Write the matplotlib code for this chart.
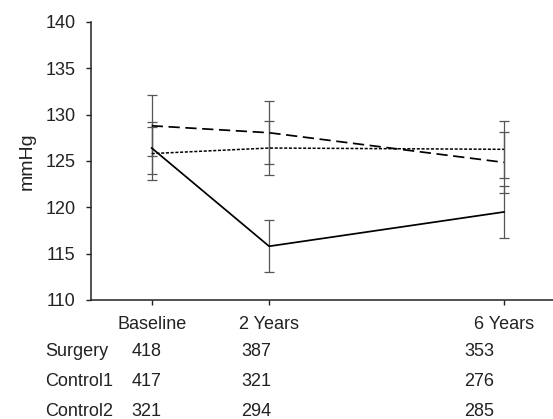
import matplotlib
matplotlib.use("Agg")
import matplotlib.pyplot as plt
from matplotlib.transforms import blended_transform_factory

plt.rcParams['font.family'] = ['Liberation Sans', 'DejaVu Sans']

# ---- data ----
timepoints = [0, 2, 6]
tick_labels = ["Baseline", "2 Years", "6 Years"]

surgery_mean = [126.4, 115.8, 119.5]
surgery_err = [2.8, 2.8, 2.85]

control1_mean = [128.8, 128.05, 124.85]
control1_err = [3.3, 3.4, 3.3]

control2_mean = [125.8, 126.4, 126.26]
control2_err = [2.9, 2.9, 3.1]

group_names = ["Surgery", "Control1", "Control2"]
n_surgery = [418, 387, 353]
n_control1 = [417, 321, 276]
n_control2 = [321, 294, 285]

y_label = "mmHg"
y_ticks = [110, 115, 120, 125, 130, 135, 140]

# ---- figure ----
W, H = 553, 419
fig = plt.figure(figsize=(W / 100, H / 100), dpi=100)
ax = fig.add_axes([91 / W, 1 - 300 / H, (W - 91) / W, (300 - 22) / H])

err_color = "#555555"
series = [
    (surgery_mean, surgery_err, "-", 1.25),
    (control1_mean, control1_err, (0, (6.5, 3.2)), 1.25),
    (control2_mean, control2_err, (0, (2, 1.1)), 1.1),
]
for mean, err, ls, lw in series:
    ax.errorbar(timepoints, mean, yerr=err, fmt="none", ecolor=err_color,
                elinewidth=0.9, capsize=3.6, capthick=0.9, zorder=2)
    ax.plot(timepoints, mean, color="black", linestyle=ls, linewidth=lw, zorder=3)

ax.set_xlim(-1.034, 6.836)
ax.set_ylim(110, 140)
ax.set_yticks(y_ticks)
ax.set_xticks(timepoints)
ax.set_xticklabels(tick_labels)

for s in ["top", "right"]:
    ax.spines[s].set_visible(False)
for s in ["left", "bottom"]:
    ax.spines[s].set_linewidth(1.1)
    ax.spines[s].set_color("#222222")

ax.tick_params(axis="both", direction="out", length=3.6, width=1.0,
               colors="#222222", labelsize=13, labelcolor="#222222")
ax.tick_params(axis="x", pad=8.0)
ax.tick_params(axis="y", pad=7.5)

ax.set_ylabel(y_label, fontsize=14, color="#222222", labelpad=7)

# ---- numbers-at-risk table ----
col_x = [-0.09, 1.78, 5.58]
row_baselines = [356, 386, 416]
trans = blended_transform_factory(ax.transData, fig.transFigure)
for name, counts, yb in zip(group_names, [n_surgery, n_control1, n_control2], row_baselines):
    fy = 1 - yb / H
    fig.text(45 / W, fy, name, fontsize=13, color="#222222", ha="left", va="baseline")
    for cx, c in zip(col_x, counts):
        ax.text(cx, fy, str(c), transform=trans, fontsize=13, color="#222222",
                ha="center", va="baseline", clip_on=False)

fig.savefig("out.png", dpi=100)
